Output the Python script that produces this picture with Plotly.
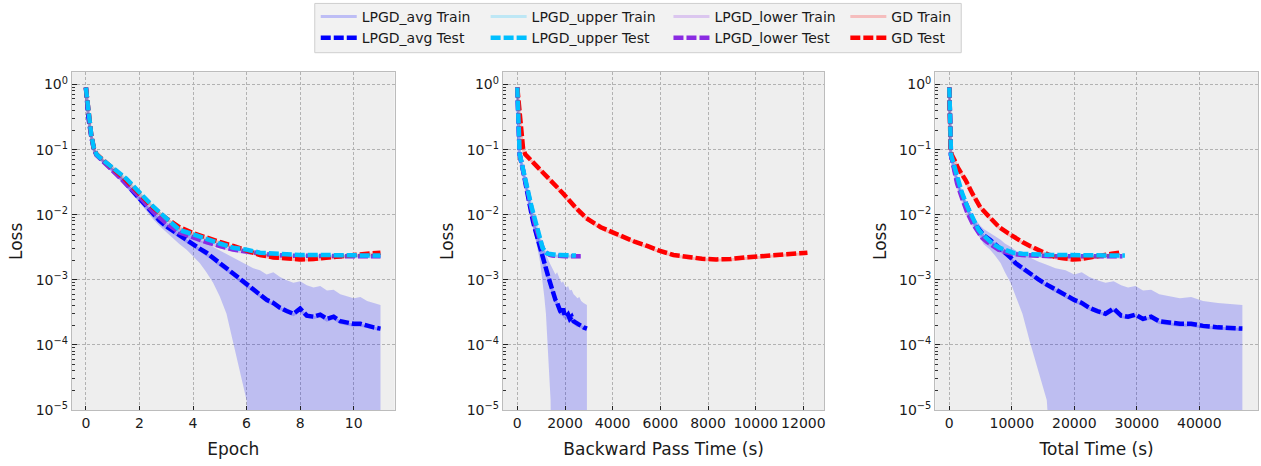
import plotly.graph_objects as go

# ---------------- data ----------------
epochs_fine = [0, 0.1, 0.2, 0.3, 0.4, 0.5, 0.75, 1.0, 1.25, 1.5, 1.75, 2.0, 2.25, 2.5, 2.75,
               3.0, 3.25, 3.5, 3.75, 4.0, 4.25, 4.5, 4.75, 5.0, 5.25, 5.5, 5.75, 6.0, 6.25,
               6.5, 6.75, 7.0, 7.25, 7.5, 7.75, 8.0, 8.25, 8.5, 8.75, 9.0, 9.25, 9.5, 9.75,
               10.0, 10.25, 10.5, 10.75, 11.0]

avg_test = [0.90, 0.30, 0.16, 0.102, 0.083, 0.076, 0.062, 0.050, 0.039, 0.030, 0.023, 0.0178,
            0.0135, 0.0102, 0.0081, 0.0066, 0.0056, 0.0048, 0.0041, 0.0035, 0.0030, 0.0026,
            0.0022, 0.0018, 0.0015, 0.00125, 0.00102, 0.00084, 0.00070, 0.00058, 0.00049,
            0.00044, 0.00037, 0.00033, 0.00030, 0.00036, 0.00028, 0.00027, 0.00029, 0.00025,
            0.00027, 0.00023, 0.00022, 0.00021, 0.00021, 0.000195, 0.000185, 0.000177]
avg_train = [0.89, 0.29, 0.158, 0.100, 0.082, 0.075, 0.061, 0.049, 0.038, 0.029, 0.0225, 0.0172,
             0.0131, 0.0099, 0.0079, 0.0064, 0.0054, 0.0046, 0.0040, 0.0034, 0.0029, 0.0025,
             0.0021, 0.0017, 0.00145, 0.0012, 0.00098, 0.00081, 0.00068, 0.00056, 0.00047,
             0.00042, 0.00036, 0.00032, 0.00029, 0.00034, 0.00027, 0.00026, 0.00028, 0.00024,
             0.00026, 0.00022, 0.00021, 0.00020, 0.00020, 0.000188, 0.00018, 0.000172]
avg_train_lo = [0.88, 0.28, 0.153, 0.097, 0.079, 0.072, 0.058, 0.046, 0.035, 0.027, 0.020, 0.0155,
                0.0116, 0.0086, 0.0067, 0.0053, 0.0043, 0.0035, 0.0029, 0.0023, 0.0018, 0.0013,
                0.0009, 0.00055, 0.0003, 0.00011, 0.00004, 0.000014, 1e-7, 1e-7, 1e-7, 1e-7,
                1e-7, 1e-7, 1e-7, 1e-7, 1e-7, 1e-7, 1e-7, 1e-7, 1e-7, 1e-7, 1e-7, 1e-7, 1e-7,
                1e-7, 1e-7, 1e-7]
avg_train_hi = [0.92, 0.31, 0.165, 0.105, 0.086, 0.079, 0.065, 0.053, 0.042, 0.032, 0.025, 0.0192,
                0.0148, 0.0114, 0.0093, 0.0078, 0.0068, 0.0060, 0.0053, 0.0046, 0.0041, 0.0036,
                0.0032, 0.0028, 0.0025, 0.0022, 0.0019, 0.0017, 0.0015, 0.0014, 0.0012, 0.0013,
                0.0011, 0.00098, 0.00090, 0.00095, 0.00082, 0.00076, 0.00080, 0.00068, 0.00070,
                0.00060, 0.00056, 0.00052, 0.00054, 0.00047, 0.00044, 0.00041]
avg_bwd = [0, 25, 50, 75, 100, 125, 185, 240, 290, 345, 400, 460, 525, 590, 650, 710, 760, 810,
           860, 910, 960, 1010, 1070, 1130, 1200, 1260, 1330, 1395, 1460, 1530, 1600, 1670, 1730,
           1800, 1860, 1920, 1990, 2060, 2130, 2200, 2280, 2360, 2440, 2520, 2600, 2680, 2780, 2920]
avg_total = [0, 60, 120, 180, 260, 350, 650, 850, 1050, 1350, 1800, 2300, 2800, 3300, 3850, 4400,
             4950, 5500, 6500, 7400, 8200, 8900, 9800, 10600, 11700, 12900, 14200, 15600, 17000,
             18600, 20000, 21200, 22400, 23700, 25000, 26300, 27500, 28600, 29800, 31000, 32300,
             33600, 35200, 36900, 38700, 40600, 43000, 46900]

epochs_coarse = [0, 0.1, 0.2, 0.3, 0.4, 0.5, 0.75, 1.0, 1.5, 2.0, 2.5, 3.0, 3.5, 4.0, 4.5, 5.0,
                 5.5, 6.0, 6.5, 7.0, 7.5, 8.0, 8.5, 9.0, 9.5, 10.0, 10.5, 11.0]

upper_test = [0.90, 0.32, 0.17, 0.105, 0.084, 0.077, 0.064, 0.054, 0.036, 0.022, 0.0135, 0.0088,
              0.0058, 0.0050, 0.0042, 0.0036, 0.0031, 0.0029, 0.0026, 0.0025, 0.00245, 0.0024,
              0.0024, 0.0024, 0.00238, 0.00237, 0.00236, 0.00235]
upper_train = [0.89, 0.31, 0.165, 0.103, 0.083, 0.076, 0.063, 0.053, 0.035, 0.0215, 0.0132, 0.0086,
               0.0056, 0.0048, 0.0041, 0.0035, 0.0030, 0.0028, 0.00255, 0.00245, 0.0024, 0.00236,
               0.00235, 0.00235, 0.00234, 0.00233, 0.00232, 0.00231]
upper_bwd = [0, 25, 50, 75, 100, 125, 180, 235, 340, 460, 590, 720, 830, 900, 960, 1010, 1060,
             1110, 1200, 1300, 1420, 1540, 1660, 1790, 1920, 2060, 2250, 2460]
upper_total = [0, 60, 120, 190, 270, 380, 600, 800, 1250, 2000, 2850, 3750, 4700, 5300, 6100, 6900,
               8000, 8800, 10200, 11700, 13200, 14700, 16400, 18200, 20200, 22500, 25200, 28100]

lower_test = [0.90, 0.31, 0.165, 0.10, 0.082, 0.075, 0.060, 0.048, 0.030, 0.019, 0.0112, 0.0074,
              0.0053, 0.0044, 0.0038, 0.0033, 0.0029, 0.0027, 0.0025, 0.0024, 0.00235, 0.00232,
              0.0023, 0.0023, 0.0023, 0.0023, 0.0023, 0.0023]
lower_train = [0.89, 0.30, 0.16, 0.098, 0.081, 0.074, 0.059, 0.047, 0.029, 0.0185, 0.0109, 0.0072,
               0.0052, 0.0043, 0.0037, 0.0032, 0.0028, 0.0026, 0.00245, 0.00235, 0.0023, 0.00228,
               0.00227, 0.00226, 0.00226, 0.00225, 0.00225, 0.00224]
lower_bwd = [0, 25, 50, 75, 100, 125, 180, 235, 345, 465, 600, 730, 840, 910, 975, 1030, 1090,
             1150, 1250, 1360, 1480, 1610, 1740, 1880, 2030, 2200, 2420, 2660]
lower_total = [0, 60, 120, 190, 270, 380, 600, 800, 1250, 1950, 2800, 3700, 4600, 5250, 6050, 6900,
               7900, 8800, 10100, 11600, 13100, 14600, 16200, 18000, 20000, 22300, 24900, 27700]

gd_test = [0.90, 0.33, 0.17, 0.105, 0.085, 0.078, 0.064, 0.053, 0.034, 0.021, 0.013, 0.0088,
           0.0064, 0.0052, 0.0044, 0.0038, 0.0033, 0.0028, 0.0024, 0.0022, 0.0021, 0.00205,
           0.00208, 0.0022, 0.00228, 0.0024, 0.0025, 0.0026]
gd_train = [0.89, 0.32, 0.165, 0.103, 0.084, 0.077, 0.063, 0.052, 0.033, 0.0205, 0.0127, 0.0086,
            0.0062, 0.0050, 0.0043, 0.0037, 0.0032, 0.0027, 0.00235, 0.00215, 0.00205, 0.0020,
            0.00203, 0.00214, 0.00222, 0.00233, 0.00243, 0.00252]
gd_bwd = [0, 90, 160, 240, 330, 430, 650, 880, 1420, 1930, 2430, 2900, 3500, 4050, 4500, 4950,
          5450, 5950, 6550, 7150, 7750, 8350, 8950, 9550, 10200, 10850, 11500, 12170]
gd_total = [0, 60, 120, 200, 350, 600, 1000, 1350, 2600, 3700, 4950, 6600, 8000, 9400, 10500,
            11700, 12900, 14400, 16000, 17100, 18400, 19700, 21000, 22300, 23600, 24800, 26000, 27200]

xtick_epoch = [0, 2, 4, 6, 8, 10]
xtick_bwd = [0, 2000, 4000, 6000, 8000, 10000, 12000]
xtick_total = [0, 10000, 20000, 30000, 40000]
ytick_vals = [1, 0.1, 0.01, 0.001, 0.0001, 0.00001]
ytick_text = ["10<sup>0</sup>", "10<sup>\u22121</sup>", "10<sup>\u22122</sup>",
              "10<sup>\u22123</sup>", "10<sup>\u22124</sup>", "10<sup>\u22125</sup>"]
x_titles = ["Epoch", "Backward Pass Time (s)", "Total Time (s)"]
y_title = "Loss"

# ---------------- figure ----------------
W, H = 1261, 466
FONT = "DejaVu Sans"

methods = [
    dict(name="LPGD_avg", rgb=(0, 0, 255), ep=epochs_fine, train=avg_train, test=avg_test,
         bwd=avg_bwd, total=avg_total, lo=avg_train_lo, hi=avg_train_hi, legend="legend"),
    dict(name="LPGD_lower", rgb=(138, 43, 226), ep=epochs_coarse, train=lower_train, test=lower_test,
         bwd=lower_bwd, total=lower_total, lo=None, hi=None, legend="legend3"),
    dict(name="GD", rgb=(255, 0, 0), ep=epochs_coarse, train=gd_train, test=gd_test,
         bwd=gd_bwd, total=gd_total, lo=None, hi=None, legend="legend4"),
    dict(name="LPGD_upper", rgb=(0, 191, 255), ep=epochs_coarse, train=upper_train, test=upper_test,
         bwd=upper_bwd, total=upper_total, lo=None, hi=None, legend="legend2"),
]

def rgba(c, a):
    return f"rgba({c[0]},{c[1]},{c[2]},{a})"

fig = go.Figure()
axes = [("x", "y"), ("x2", "y2"), ("x3", "y3")]
for m in methods:
    xs_list = [m["ep"], m["bwd"], m["total"]]
    for p, (xa, ya) in enumerate(axes):
        xs = xs_list[p]
        if m["lo"] is not None:
            fig.add_trace(go.Scatter(
                x=list(xs) + list(xs)[::-1], y=list(m["hi"]) + list(m["lo"])[::-1],
                fill="toself", fillcolor=rgba(m["rgb"], 0.2), line=dict(width=0),
                mode="lines", hoverinfo="skip", showlegend=False, xaxis=xa, yaxis=ya))
        fig.add_trace(go.Scatter(
            x=xs, y=m["train"], mode="lines", name=m["name"] + " Train",
            line=dict(color=rgba(m["rgb"], 0.22), width=3),
            legend=m["legend"], legendgroup=m["name"] + "_train",
            showlegend=(p == 0), xaxis=xa, yaxis=ya))
        fig.add_trace(go.Scatter(
            x=xs, y=m["test"], mode="lines", name=m["name"] + " Test",
            line=dict(color=rgba(m["rgb"], 1), width=4.5, dash="10px,3px"),
            legend=m["legend"], legendgroup=m["name"] + "_test",
            showlegend=(p == 0), xaxis=xa, yaxis=ya))

x_domains = [[72 / W, 395 / W], [503.3 / W, 825 / W], [936 / W, 1259 / W]]
y_domain = [1 - 416.7 / H, 1 - 73.3 / H]
x_ranges = [[-0.52, 11.53], [-605, 12880], [-2250, 49400]]
x_ticks = [xtick_epoch, xtick_bwd, xtick_total]

grid = dict(showgrid=True, gridcolor="#b2b2b2", griddash="3px,2px", gridwidth=0.8,
            showline=True, mirror=True, linecolor="#bcbcbc", linewidth=1.3, zeroline=False,
            ticks="inside", ticklen=4.5, tickwidth=1, tickcolor="#222222",
            tickfont=dict(family=FONT, size=14, color="#1a1a1a"))

layout = dict(
    width=W, height=H, margin=dict(l=0, r=0, t=0, b=0),
    paper_bgcolor="white", plot_bgcolor="#eeeeee",
    font=dict(family=FONT, size=14, color="#1a1a1a"),
    hovermode=False,
)
for i in range(3):
    sfx = "" if i == 0 else str(i + 1)
    layout["xaxis" + sfx] = dict(
        grid, domain=x_domains[i], range=x_ranges[i], anchor="y" + sfx,
        tickmode="array", tickvals=x_ticks[i], tickformat="d", tickangle=0,
        title=dict(text=x_titles[i], font=dict(family=FONT, size=17, color="#1a1a1a"), standoff=12))
    layout["yaxis" + sfx] = dict(
        grid, domain=y_domain, type="log", range=[-5.01, 0.19], anchor="x" + sfx,
        tickmode="array", tickvals=ytick_vals, ticktext=ytick_text,
        minor=dict(ticks="inside", ticklen=3, tickcolor="#333333", dtick="D1", showgrid=False),
        title=dict(text=y_title, font=dict(family=FONT, size=17, color="#1a1a1a"), standoff=8))

leg_common = dict(orientation="v", yanchor="top", xanchor="left", y=1 - 1 / H,
                  bgcolor="rgba(0,0,0,0)", borderwidth=0, tracegroupgap=0, itemwidth=36,
                  font=dict(family=FONT, size=14, color="#1a1a1a"))
col_x = [316, 486, 669, 846]
for j, lg in enumerate(["legend", "legend2", "legend3", "legend4"]):
    layout[lg] = dict(leg_common, x=col_x[j] / W)

layout["shapes"] = [dict(type="rect", xref="paper", yref="paper",
                         x0=315 / W, x1=962 / W, y0=1 - 53.5 / H, y1=1 - 3.5 / H,
                         fillcolor="#f2f2f2", line=dict(color="#cfcfcf", width=1), layer="below")]

fig.update_layout(**layout)
fig.write_html("out.html")
